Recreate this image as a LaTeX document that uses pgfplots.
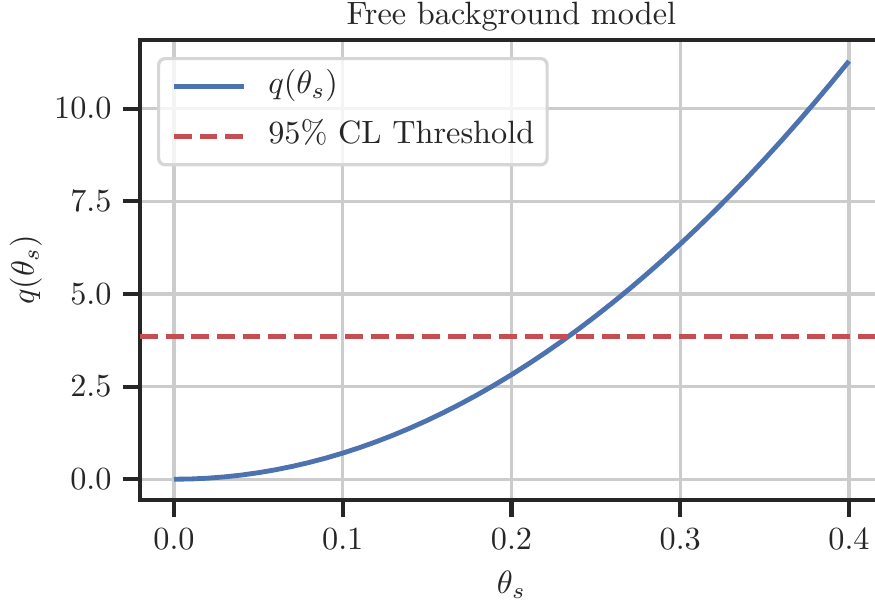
\documentclass[border=0pt]{standalone}
\usepackage{pgfplots}
\pgfplotsset{compat=1.18}

\definecolor{deepblue}{HTML}{4C72B0}
\definecolor{deepred}{HTML}{C44E52}
\definecolor{spine}{HTML}{262626}
\definecolor{gridgray}{HTML}{CCCCCC}

% test statistic q(theta_s) sampled on a grid of signal strengths
\pgfplotstableread{
theta q
0.00 0.0
0.01 0.00705
0.02 0.0282
0.03 0.06345
0.04 0.1128
0.05 0.17625
0.06 0.2538
0.07 0.34545
0.08 0.4512
0.09 0.57105
0.10 0.705
0.11 0.85305
0.12 1.0152
0.13 1.19145
0.14 1.3818
0.15 1.58625
0.16 1.8048
0.17 2.03745
0.18 2.2842
0.19 2.54505
0.20 2.82
0.21 3.10905
0.22 3.4122
0.23 3.72945
0.24 4.0608
0.25 4.40625
0.26 4.7658
0.27 5.13945
0.28 5.5272
0.29 5.92905
0.30 6.345
0.31 6.77505
0.32 7.2192
0.33 7.67745
0.34 8.1498
0.35 8.63625
0.36 9.1368
0.37 9.65145
0.38 10.1802
0.39 10.72305
0.40 11.28
}\qtable

\begin{document}
\begin{tikzpicture}
\begin{axis}[
  at={(0pt,0pt)}, anchor=south west,
  scale only axis,
  width=230.25pt, height=142.6pt,
  xmin=-0.02015, xmax=0.42,
  ymin=-0.56, ymax=11.85,
  xtick={0,0.1,0.2,0.3,0.4},
  ytick={0,2.5,5,7.5,10},
  xticklabel style={/pgf/number format/.cd,fixed,fixed zerofill,precision=1},
  yticklabel style={/pgf/number format/.cd,fixed,fixed zerofill,precision=1},
  scaled ticks=false,
  axis line style={spine, line width=1.25pt},
  every tick/.style={spine, line width=1.25pt},
  tick align=outside,
  major tick length=5.3pt,
  xtick pos=bottom, ytick pos=left,
  ticklabel style={text=spine},
  grid=major,
  major grid style={gridgray, line width=1pt},
  title={Free background model},
  title style={at={(0.5,1)}, anchor=base, yshift=-1.35pt, text=spine, inner sep=0pt},
  xlabel={$\theta_s$},
  xlabel style={at={(0.5,0)}, anchor=base, yshift=-29.1pt, text=spine, inner sep=0pt},
  ylabel={$q(\theta_s)$},
  ylabel style={at={(0,0.5)}, anchor=base, yshift=32.9pt, text=spine, inner sep=0pt},
  legend cell align=left,
  legend image code/.code={\draw[#1] (0pt,0pt) -- (21.7pt,0pt);},
  legend style={at={(0.0229,0.963)}, anchor=north west,
    draw=gridgray!80, line width=1pt, rounded corners=2pt,
    fill=white, fill opacity=0.8, text opacity=1,
    inner xsep=4pt, inner ysep=3.95pt, row sep=6pt,
    nodes={text=spine, inner xsep=0pt, inner ysep=0pt, text height=7pt, text depth=2.5pt},
    /tikz/every odd column/.append style={column sep=6.8pt}},
]
\addplot[deepblue, line width=1.5pt, line join=round] table[x=theta,y=q]{\qtable};
\addlegendentry{$q(\theta_s)$}
\addplot[deepred, line width=1.5pt, dash pattern=on 5.55pt off 2.4pt] coordinates {(-0.02015,3.84) (0.42,3.84)};
\addlegendentry{95\% CL Threshold}
\end{axis}
\pgfresetboundingbox
\useasboundingbox (-43.4pt,-32.24pt) rectangle (227.85pt,155pt);
\end{tikzpicture}
\end{document}
